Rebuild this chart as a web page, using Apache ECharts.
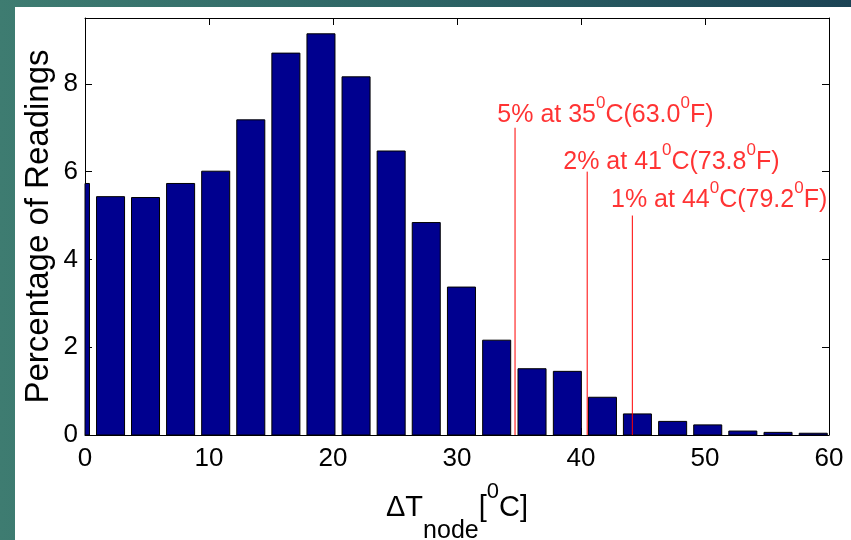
<!DOCTYPE html>
<html>
<head>
<meta charset="utf-8">
<script src="https://cdn.jsdelivr.net/npm/echarts@6/dist/echarts.min.js"></script>
<style>
html,body{margin:0;padding:0;background:#fff;}
#chart{width:851px;height:540px;}
</style>
</head>
<body>
<div id="chart"></div>
<script>
// ---- data ----
const binCenters = [-0.77, 2.06, 4.88, 7.71, 10.54, 13.37, 16.20, 19.03, 21.86, 24.69, 27.52,
                    30.36, 33.20, 36.05, 38.90, 41.73, 44.55, 47.39, 50.22, 53.05, 55.89, 58.73];
const percentages = [5.73, 5.43, 5.41, 5.73, 6.01, 7.18, 8.70, 9.14, 8.16, 6.47, 4.84,
                     3.37, 2.16, 1.51, 1.45, 0.86, 0.48, 0.31, 0.23, 0.09, 0.06, 0.04];
const xTicks = [0, 10, 20, 30, 40, 50, 60];
const yTicks = [0, 2, 4, 6, 8];
// threshold markers
const thrX = [34.68, 40.50, 44.14];
const thrTop = [7.0, 6.0, 5.0];
const thrPct = ['5%', '2%', '1%'];
const thrDegC = ['35', '41', '44'];
const thrDegF = ['63.0', '73.8', '79.2'];
const thrLabelX = [33.25, 38.57, 42.42];
const thrLabelY = [7.08, 6.02, 5.15];

const FONT = '"Liberation Sans", Arial, Helvetica, sans-serif';
const BAR_WIDTH_UNITS = 2.26;

const chart = echarts.init(document.getElementById('chart'), null, {renderer: 'canvas'});

const barData = binCenters.map((x, i) => [x, percentages[i]]);
const thrData = thrX.map((x, i) => [x, thrTop[i]]);
const labelData = thrLabelX.map((x, i) => ({
  value: [x, thrLabelY[i]],
  label: {formatter: '{m|' + thrPct[i] + ' at ' + thrDegC[i] + '}{s|0}{m|C(' + thrDegF[i] + '}{s|0}{m|F)}'}
}));

const axisCommon = {
  type: 'value', min: 0,
  axisLine: {show: true, onZero: false, lineStyle: {color: '#000', width: 1}},
  axisTick: {show: true, inside: true, length: 7, lineStyle: {color: '#000', width: 1}},
  splitLine: {show: false}
};

function clipToGrid(rect, cs) {
  return echarts.graphic.clipRectByRect(rect, {x: cs.x, y: cs.y, width: cs.width, height: cs.height});
}

const option = {
  animation: false,
  backgroundColor: '#ffffff',
  graphic: [
    {type: 'rect', z: -20, silent: true, shape: {x: 0, y: 0, width: 851, height: 540},
     style: {fill: new echarts.graphic.LinearGradient(0, 0, 1, 0, [
       {offset: 0, color: '#3e7c71'}, {offset: 0.5, color: '#2d6465'}, {offset: 1, color: '#1b4354'}])}},
    {type: 'rect', z: -19, silent: true, shape: {x: 15, y: 7, width: 836, height: 533},
     style: {fill: '#ffffff'}}
  ],
  grid: {left: 85, right: 22, top: 18, bottom: 105, containLabel: false, outerBoundsMode: 'none'},
  xAxis: [
    Object.assign({}, axisCommon, {
      position: 'bottom', max: 60, interval: 10,
      axisLabel: {show: true, margin: 11, fontFamily: FONT, fontSize: 26, color: '#000',
                  formatter: v => xTicks.indexOf(v) >= 0 ? String(v) : ''},
      name: '{m|\u0394T}{sub|node}{m|[}{sup|0}{m|C]}',
      nameLocation: 'middle', nameGap: 37, nameMoveOverlap: false,
      nameTextStyle: {
        fontFamily: FONT, color: '#000',
        rich: {
          m: {fontFamily: FONT, fontSize: 29, lineHeight: 72, color: '#000'},
          sub: {fontFamily: FONT, fontSize: 25, lineHeight: 25, verticalAlign: 'bottom', color: '#000'},
          sup: {fontFamily: FONT, fontSize: 22, lineHeight: 22, verticalAlign: 'top', padding: [9, 0, 0, 0], color: '#000'}
        }
      }
    }),
    Object.assign({}, axisCommon, {
      position: 'top', max: 60, interval: 10, axisLabel: {show: false}
    })
  ],
  yAxis: [
    Object.assign({}, axisCommon, {
      position: 'left', max: 9.5, interval: 2,
      axisLabel: {show: true, margin: 7, fontFamily: FONT, fontSize: 26, color: '#000',
                  formatter: v => yTicks.indexOf(v) >= 0 ? String(v) : ''},
      name: 'Percentage of Readings', nameLocation: 'middle', nameGap: 30, nameMoveOverlap: false,
      nameTextStyle: {fontFamily: FONT, fontSize: 33, color: '#000'}
    }),
    Object.assign({}, axisCommon, {
      position: 'right', max: 9.5, interval: 2, axisLabel: {show: false}
    })
  ],
  series: [
    {
      type: 'custom', xAxisIndex: 0, yAxisIndex: 0, data: barData, z: 2, silent: true,
      encode: {x: 0, y: 1},
      renderItem: function (params, api) {
        const x = api.value(0), y = api.value(1);
        const top = api.coord([x, y]);
        const base = api.coord([x, 0]);
        const w = api.size([BAR_WIDTH_UNITS, 0])[0];
        const rect = clipToGrid({x: top[0] - w / 2, y: top[1], width: w, height: base[1] - top[1]}, params.coordSys);
        if (!rect) return null;
        return {type: 'rect', shape: rect,
                style: {fill: '#00008f', stroke: '#000000', lineWidth: 1}};
      }
    },
    {
      type: 'custom', xAxisIndex: 0, yAxisIndex: 0, data: thrData, z: 5, silent: true,
      encode: {x: 0, y: 1},
      renderItem: function (params, api) {
        const x = api.value(0), y = api.value(1);
        const p1 = api.coord([x, y]);
        const p0 = api.coord([x, 0]);
        return {type: 'line', shape: {x1: p0[0], y1: p0[1], x2: p1[0], y2: p1[1]},
                style: {stroke: '#ff0000', lineWidth: 1}};
      }
    },
    {
      type: 'scatter', xAxisIndex: 0, yAxisIndex: 0, symbolSize: 0, z: 6, silent: true,
      data: labelData,
      label: {
        show: true, position: [0, -29], align: 'left', verticalAlign: 'top',
        rich: {
          m: {fontFamily: FONT, fontSize: 25, lineHeight: 40, color: '#ff0000'},
          s: {fontFamily: FONT, fontSize: 17, lineHeight: 17, verticalAlign: 'top', color: '#ff0000'}
        }
      }
    }
  ]
};
chart.setOption(option);
</script>
</body>
</html>
